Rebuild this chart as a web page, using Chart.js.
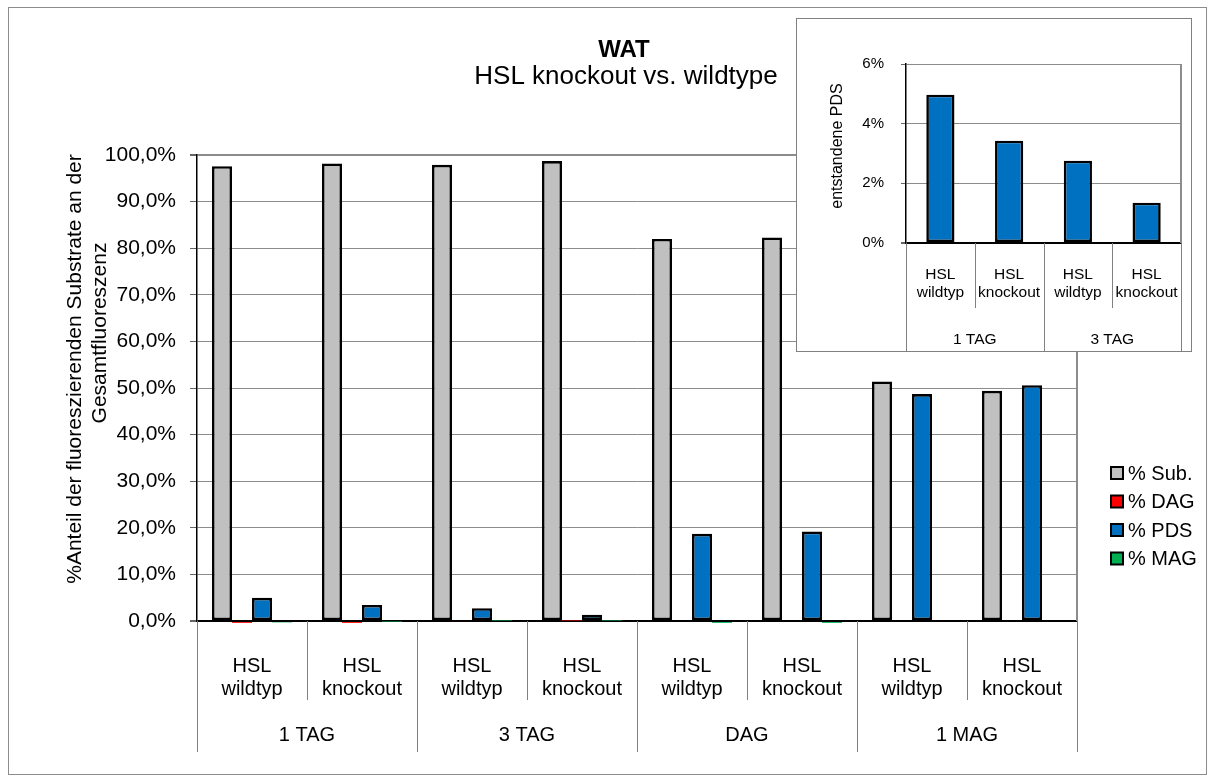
<!DOCTYPE html>
<html>
<head>
<meta charset="utf-8">
<script src="https://cdn.jsdelivr.net/npm/chart.js@4.4.0/dist/chart.umd.min.js"></script>
<style>
  body { margin: 0; background: #fff; }
  #wrap { position: relative; width: 1215px; height: 784px; }
  #frame { position: absolute; left: 8px; top: 7px; width: 1199px; height: 768px; border: 1px solid #8c8c8c; box-sizing: border-box; }
  #main { position: absolute; left: 0; top: 0; }
  #insetBox { position: absolute; left: 796px; top: 18px; width: 396px; height: 334px; border: 1px solid #808080; background: #fff; box-sizing: border-box; }
  #inset { position: absolute; left: 0; top: 0; }
</style>
</head>
<body>
<div id="wrap">
  <div id="frame"></div>
  <canvas id="main" width="1215" height="784"></canvas>
  <div id="insetBox"><canvas id="inset" width="394" height="332"></canvas></div>
</div>
<script>
const FONT = "'Liberation Sans', Arial, sans-serif";

// categories (two label rows) and their groups
const categories = [
  ['HSL', 'wildtyp'], ['HSL', 'knockout'],
  ['HSL', 'wildtyp'], ['HSL', 'knockout'],
  ['HSL', 'wildtyp'], ['HSL', 'knockout'],
  ['HSL', 'wildtyp'], ['HSL', 'knockout']
];
const groups = ['1 TAG', '3 TAG', 'DAG', '1 MAG'];

// percentages of total fluorescence
const subPct = [97.6, 98.2, 97.9, 98.7, 82.0, 82.3, 51.4, 49.4];
const dagPct = [-0.4, -0.4, -0.2, 0.1, null, null, null, null];
const pdsPct = [4.97, 3.43, 2.76, 1.35, 18.7, 19.2, 48.7, 50.6];
const magPct = [-0.3, -0.1, 0.1, 0.1, -0.4, -0.4, null, null];

// small chart: PDS formed from the TAG substrates
const insetCategories = categories.slice(0, 4);
const insetGroups = groups.slice(0, 2);
const insetPds = pdsPct.slice(0, 4);

const seriesNames = ['% Sub.', '% DAG', '% PDS', '% MAG'];
const seriesColors = ['#c0c0c0', '#ff0000', '#0070c0', '#00b050'];

// draws the boxed two-level category axis, titles and legend
const decor = {
  id: 'decor',
  afterDraw(chart, args, o) {
    const { ctx, chartArea: a, scales: { x } } = chart;
    const labels = chart.data.labels;
    const n = labels.length;
    const step = x.getPixelForValue(1) - x.getPixelForValue(0);
    ctx.save();

    // right border of plot area
    ctx.strokeStyle = '#8c8c8c';
    ctx.lineWidth = 2;
    ctx.beginPath();
    ctx.moveTo(a.right, a.top);
    ctx.lineTo(a.right, a.bottom);
    ctx.stroke();

    // category separators
    ctx.strokeStyle = '#808080';
    ctx.lineWidth = 1;
    for (let i = 0; i <= n; i++) {
      const bx = Math.round(x.getPixelForValue(0) - step / 2 + i * step) + 0.5;
      const isGroup = i % o.perGroup === 0;
      ctx.beginPath();
      ctx.moveTo(bx, a.bottom);
      ctx.lineTo(bx, isGroup ? o.groupBottom : o.subBottom);
      ctx.stroke();
    }

    ctx.fillStyle = '#000';
    ctx.textAlign = 'center';
    ctx.textBaseline = 'middle';
    ctx.font = o.catFont + 'px ' + FONT;
    labels.forEach((lines, i) => {
      const cx = x.getPixelForValue(i);
      lines.forEach((t, j) => ctx.fillText(t, cx, o.subY[j]));
    });
    o.groups.forEach((g, k) => {
      const cx = (x.getPixelForValue(k * o.perGroup) + x.getPixelForValue(k * o.perGroup + o.perGroup - 1)) / 2;
      ctx.fillText(g, cx, o.groupY);
    });

    // rotated y title
    ctx.font = o.yTitle.size + 'px ' + FONT;
    o.yTitle.lines.forEach((t, j) => {
      ctx.save();
      ctx.translate(o.yTitle.x[j], o.yTitle.y[j]);
      ctx.rotate(-Math.PI / 2);
      ctx.fillText(t, 0, 0);
      ctx.restore();
    });

    // chart title
    if (o.title) {
      ctx.font = 'bold 24px ' + FONT;
      ctx.fillText(o.title[0], 624, 50);
      ctx.font = '26px ' + FONT;
      ctx.fillText(o.title[1], 626, 77);
    }

    // legend
    if (o.legend) {
      ctx.textAlign = 'left';
      ctx.font = '20px ' + FONT;
      chart.data.datasets.forEach((ds, i) => {
        const ly = o.legend.y + i * o.legend.gap;
        ctx.fillStyle = ds.backgroundColor;
        ctx.fillRect(o.legend.x, ly - 6, 12, 12);
        ctx.strokeStyle = '#000';
        ctx.lineWidth = 2;
        ctx.strokeRect(o.legend.x, ly - 6, 12, 12);
        ctx.fillStyle = '#000';
        ctx.fillText(ds.label, o.legend.x + 17, ly + 1);
      });
    }
    ctx.restore();
  }
};

const gridColor = c => (c.tick.value === 0 ? '#000' : '#8c8c8c');

new Chart(document.getElementById('main'), {
  type: 'bar',
  data: {
    labels: categories,
    datasets: [subPct, dagPct, pdsPct, magPct].map((d, i) => ({
      label: seriesNames[i],
      data: d,
      backgroundColor: seriesColors[i],
      borderColor: '#000',
      // very thin slivers show only their fill
      borderWidth: c => (Math.abs(c.raw) < 1 ? 0 : 2.6),
      borderSkipped: false,
      categoryPercentage: 80 / 110,
      barPercentage: 1,
      clip: false
    }))
  },
  options: {
    responsive: false,
    animation: false,
    layout: { padding: { top: 155, right: 138, bottom: 163, left: 0 } },
    plugins: {
      legend: { display: false },
      tooltip: { enabled: false },
      decor: {
        perGroup: 2,
        groups: groups,
        subBottom: 700,
        groupBottom: 752,
        subY: [666, 689],
        groupY: 735,
        catFont: 20,
        title: ['WAT', 'HSL knockout vs. wildtype'],
        yTitle: {
          size: 21,
          lines: ['%Anteil der fluoreszierenden Substrate an der', 'Gesamtfluoreszenz'],
          x: [75, 100],
          y: [369, 333]
        },
        legend: { x: 1111, y: 473, gap: 28.5 }
      }
    },
    scales: {
      x: { display: false },
      y: {
        min: 0,
        max: 100,
        afterFit: s => { s.width = 197; },
        ticks: {
          stepSize: 10,
          padding: 14,
          color: '#000',
          font: { family: FONT, size: 21 },
          callback: v => v.toFixed(1).replace('.', ',') + '%'
        },
        grid: {
          color: gridColor,
          tickColor: '#666',
          tickLength: 7,
          lineWidth: c => (c.tick.value === 0 || c.tick.value === 100 ? 2 : 1)
        },
        border: { color: '#000', width: 1.5 }
      }
    }
  },
  plugins: [decor]
});

new Chart(document.getElementById('inset'), {
  type: 'bar',
  data: {
    labels: insetCategories,
    datasets: [{
      label: 'entstandene PDS',
      data: insetPds,
      backgroundColor: '#0070c0',
      borderColor: '#000',
      borderWidth: 2.6,
      borderSkipped: false,
      categoryPercentage: 1,
      barPercentage: 0.41
    }]
  },
  options: {
    responsive: false,
    animation: false,
    layout: { padding: { top: 45, right: 10, bottom: 108, left: 0 } },
    plugins: {
      legend: { display: false },
      tooltip: { enabled: false },
      decor: {
        perGroup: 2,
        groups: insetGroups,
        subBottom: 289,
        groupBottom: 332,
        subY: [256, 274],
        groupY: 321,
        catFont: 15.5,
        yTitle: { size: 16, lines: ['entstandene PDS'], x: [41], y: [127] }
      }
    },
    scales: {
      x: { display: false },
      y: {
        min: 0,
        max: 6,
        afterFit: s => { s.width = 109; },
        ticks: {
          stepSize: 2,
          padding: 17,
          color: '#000',
          font: { family: FONT, size: 15 },
          callback: v => v + '%'
        },
        grid: {
          color: gridColor,
          tickColor: '#666',
          tickLength: 5,
          lineWidth: c => (c.tick.value === 0 ? 2 : 1)
        },
        border: { color: '#000', width: 1.5 }
      }
    }
  },
  plugins: [decor]
});
</script>
</body>
</html>
